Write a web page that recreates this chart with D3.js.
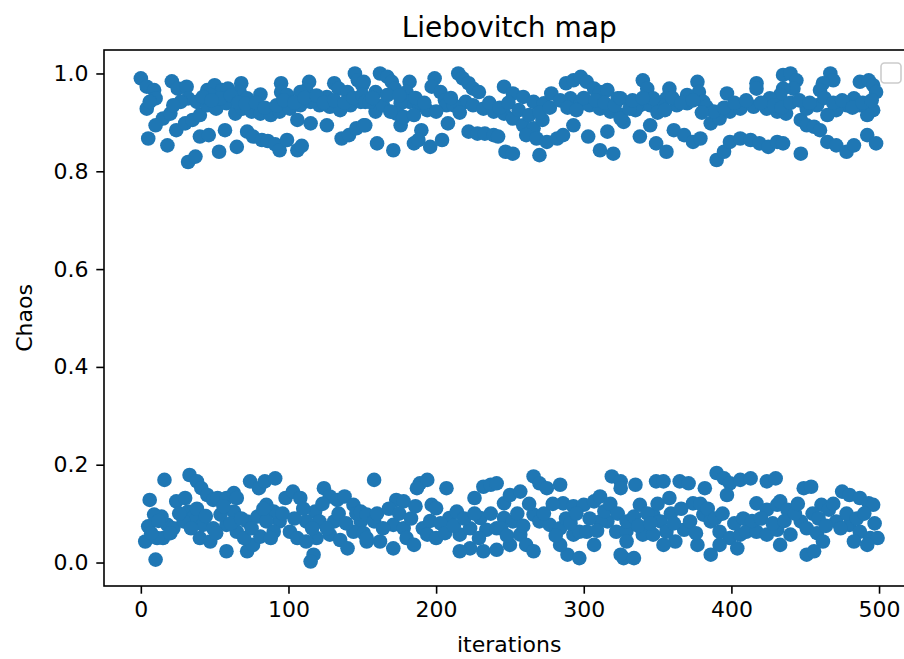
<!DOCTYPE html>
<html>
<head>
<meta charset="utf-8">
<script src="https://cdn.jsdelivr.net/npm/d3@7"></script>
<style>
  body { margin: 0; background: #fff; }
  svg { display: block; }
  text { font-family: "DejaVu Sans", sans-serif; fill: #000; }
</style>
</head>
<body>
<svg id="chart" width="904" height="659"></svg>
<script>
// Iterates of the map that land in the upper band (about 0.82 – 1.0)
const upperIterations = [
  0,4,9,10,4,6,15,20,10,5,18,21,25,31,32,27,22,24,30,35,40,32,37,40,46,53,57,65,45,50,55,59,63,68,67,81,72,76,82,86,91,94,99,106,109,95,95,114,112,131,134,145,147,150,106,115,126,136,141,146,151,
  38,45,51,58,64,69,75,81,88,94,101,108,115,121,128,135,142,149,47,54,72,99,108,117,126,140,
  42,48,61,66,71,78,84,92,97,104,111,119,124,131,138,144,
  151,150,152,162,167,170,172,159,152,160,171,182,180,182,176,173,176,178,199,197,203,206,207,190,185,188,196,204,208,215,218,222,225,229,220,225,232,239,246,252,259,266,272,222,228,233,239,242,247,252,246,252,259,266,273,270,261,268,275,282,286,293,278,288,293,298,302,307,311,316,291,298,304,311,318,325,327,303,316,311,320,323,
  155,164,169,189,194,200,212,185,159,167,
  157,175,186,192,210,216,236,243,249,256,263,270,277,284,289,295,300,308,314,321,
  325,325,340,343,338,335,358,356,352,377,378,381,383,397,417,417,435,440,444,442,435,433,467,469,462,460,487,493,496,498,483,478,471,465,496,492,345,338,349,356,361,368,374,379,386,392,399,406,415,424,431,437,390,395,399,406,413,419,425,431,435,447,447,451,456,460,465,471,478,483,492,498,
  331,345,363,370,388,451,458,487,426,347,370,
  333,340,350,355,360,366,374,380,395,402,410,420,429,434,440,446,453,463,469,475,482,489,495
];
const upperChaos = [
  0.990,0.973,0.966,0.949,0.928,0.942,0.908,0.918,0.894,0.867,0.853,0.984,0.969,0.973,0.949,0.942,0.935,0.884,0.898,0.905,0.915,0.819,0.830,0.871,0.874,0.840,0.884,0.850,0.966,0.976,0.966,0.969,0.952,0.980,0.962,0.957,0.881,0.871,0.864,0.862,0.855,0.843,0.864,0.843,0.852,0.980,0.962,0.983,0.966,0.980,0.969,1.000,0.986,0.976,0.905,0.898,0.894,0.867,0.874,0.888,0.894,
  0.942,0.935,0.928,0.939,0.918,0.928,0.922,0.918,0.915,0.922,0.928,0.935,0.942,0.935,0.932,0.925,0.935,0.942,0.956,0.949,0.949,0.956,0.962,0.945,0.952,0.962,
  0.952,0.945,0.955,0.940,0.938,0.940,0.930,0.935,0.945,0.940,0.950,0.955,0.940,0.945,0.940,0.950,
  0.983,0.956,0.942,1.000,0.993,0.983,0.969,0.922,0.894,0.857,0.843,0.983,0.962,0.942,0.939,0.918,0.894,0.911,0.990,0.973,0.962,0.945,0.935,0.884,0.857,0.864,0.850,0.864,0.898,1.000,0.990,0.980,0.969,0.962,0.942,0.935,0.928,0.922,0.918,0.908,0.894,0.888,0.905,0.881,0.877,0.877,0.874,0.871,0.840,0.836,0.973,0.959,0.952,0.942,0.939,0.833,0.874,0.867,0.860,0.867,0.874,0.894,0.959,0.980,0.986,0.993,0.983,0.969,0.962,0.966,0.949,0.939,0.935,0.928,0.922,0.915,0.901,0.871,0.881,0.843,0.836,0.949,
  0.942,0.935,0.922,0.935,0.925,0.922,0.935,0.915,0.962,0.956,
  0.950,0.955,0.950,0.940,0.950,0.920,0.940,0.930,0.940,0.925,0.915,0.920,0.930,0.945,0.930,0.925,0.950,0.945,0.940,0.935,
  0.949,0.908,0.986,0.969,0.935,0.925,0.969,0.949,0.935,0.983,0.962,0.942,0.932,0.959,0.980,0.969,0.997,1.000,0.986,0.969,0.969,0.956,1.000,0.986,0.980,0.966,0.983,0.986,0.976,0.962,0.949,0.935,0.925,0.915,0.925,0.915,0.894,0.871,0.857,0.840,0.884,0.874,0.860,0.867,0.898,0.908,0.922,0.928,0.932,0.928,0.922,0.918,0.823,0.840,0.860,0.867,0.864,0.857,0.850,0.860,0.857,0.836,0.905,0.894,0.891,0.884,0.860,0.853,0.840,0.853,0.874,0.857,
  0.928,0.935,0.935,0.939,0.922,0.928,0.935,0.935,0.949,0.949,0.956,
  0.945,0.950,0.920,0.925,0.950,0.940,0.945,0.920,0.930,0.940,0.945,0.940,0.935,0.930,0.940,0.945,0.940,0.950,0.940,0.945,0.930,0.940,0.945
];

// Iterates of the map that land in the lower band (about 0.0 – 0.18)
const lowerIterations = [
  16,6,5,3,10,15,18,14,33,38,41,45,49,24,30,32,36,40,47,58,52,58,63,65,74,80,84,91,72,76,81,42,49,58,65,72,79,98,103,108,94,101,106,90,85,124,128,118,121,117,115,133,138,144,128,135,140,149,
  9,11,22,29,63,54,70,85,90,112,119,131,144,153,112,
  7,12,20,26,34,38,44,51,56,61,68,75,83,88,96,104,110,116,123,126,134,139,146,151,
  158,149,153,158,173,178,171,189,194,187,207,197,200,178,180,185,191,194,200,209,214,226,232,237,241,230,234,241,246,223,232,241,246,250,257,266,270,275,284,257,261,266,266,270,277,284,286,293,300,307,311,293,297,302,289,297,319,325,316,322,327,
  162,171,216,216,223,250,284,307,311,252,153,
  160,164,168,175,183,186,196,203,206,212,219,226,229,237,244,248,255,259,263,273,279,281,288,291,295,304,309,314,318,323,329,
  335,325,329,334,338,340,349,354,365,371,358,374,382,390,395,399,406,413,424,430,397,417,424,431,433,438,347,352,356,362,368,372,381,386,392,399,406,410,417,424,431,449,454,447,451,458,462,451,456,461,466,475,480,487,493,496,471,480,487,494,499,492,
  325,334,386,329,347,354,377,392,404,433,440,483,
  337,343,345,350,359,361,366,376,379,384,389,394,402,408,414,420,428,436,443,445,455,459,464,469,474,478,485,490,497
];
const lowerChaos = [
  0.169,0.128,0.074,0.043,0.006,0.050,0.077,0.094,0.179,0.166,0.152,0.138,0.128,0.125,0.132,0.104,0.094,0.050,0.043,0.023,0.132,0.132,0.142,0.132,0.166,0.152,0.166,0.172,0.023,0.036,0.053,0.077,0.070,0.077,0.063,0.084,0.094,0.132,0.145,0.132,0.084,0.063,0.050,0.104,0.084,0.152,0.135,0.104,0.084,0.016,0.002,0.128,0.135,0.118,0.057,0.046,0.029,0.084,
  0.098,0.050,0.070,0.084,0.104,0.098,0.050,0.118,0.063,0.084,0.050,0.084,0.063,0.043,0.043,
  0.060,0.085,0.060,0.100,0.070,0.110,0.095,0.060,0.115,0.080,0.090,0.070,0.110,0.050,0.100,0.090,0.110,0.070,0.120,0.070,0.100,0.080,0.100,0.060,
  0.169,0.104,0.098,0.084,0.128,0.125,0.077,0.162,0.169,0.152,0.152,0.118,0.111,0.070,0.050,0.036,0.070,0.057,0.050,0.091,0.104,0.132,0.155,0.159,0.162,0.091,0.067,0.070,0.091,0.029,0.023,0.026,0.121,0.138,0.145,0.176,0.162,0.152,0.159,0.057,0.036,0.023,0.098,0.084,0.077,0.070,0.121,0.115,0.118,0.125,0.135,0.057,0.063,0.063,0.016,0.009,0.176,0.166,0.084,0.063,0.009,
  0.043,0.029,0.057,0.023,0.070,0.036,0.036,0.036,0.084,0.084,0.050,
  0.100,0.070,0.110,0.100,0.090,0.115,0.085,0.080,0.060,0.075,0.090,0.100,0.050,0.100,0.070,0.055,0.100,0.075,0.120,0.100,0.120,0.055,0.090,0.080,0.100,0.090,0.065,0.105,0.120,0.100,0.065,
  0.159,0.152,0.084,0.094,0.118,0.057,0.166,0.166,0.166,0.162,0.132,0.121,0.152,0.183,0.172,0.162,0.169,0.172,0.166,0.172,0.138,0.121,0.108,0.118,0.125,0.108,0.098,0.084,0.063,0.043,0.067,0.084,0.098,0.084,0.063,0.050,0.057,0.063,0.063,0.057,0.067,0.152,0.155,0.084,0.070,0.060,0.043,0.016,0.023,0.118,0.108,0.145,0.138,0.132,0.121,0.118,0.084,0.077,0.063,0.050,0.050,0.036,
  0.016,0.009,0.016,0.043,0.057,0.036,0.036,0.036,0.029,0.036,0.057,0.043,
  0.075,0.100,0.080,0.120,0.100,0.080,0.110,0.060,0.120,0.110,0.090,0.100,0.080,0.090,0.085,0.090,0.080,0.085,0.100,0.120,0.100,0.090,0.075,0.120,0.070,0.100,0.090,0.100,0.080
];

const xTickValues = [0, 100, 200, 300, 400, 500];
const yTickValues = [0.0, 0.2, 0.4, 0.6, 0.8, 1.0];
const titleText = "Liebovitch map";
const xLabelText = "iterations";
const yLabelText = "Chaos";

// Layout (pixels)
const plotLeft = 104, plotRight = 914.4, plotTop = 50, plotBottom = 586;
const tickLen = 7.7, tickPad = 7.7, lineW = 1.6;
const tickFont = 22, titleFont = 28;
const dotColor = "#1f77b4", dotRadius = 7.3;

const points = upperIterations.map((it, k) => ({ it, v: upperChaos[k] }))
  .concat(lowerIterations.map((it, k) => ({ it, v: lowerChaos[k] })));

const svg = d3.select("#chart");

const x = d3.scaleLinear().domain([-24.95, 523.95]).range([plotLeft, plotRight]);
const y = d3.scaleLinear().domain([-0.048, 1.048]).range([plotBottom, plotTop]);

// Scatter marks
svg.append("g")
  .selectAll("circle")
  .data(points)
  .join("circle")
  .attr("cx", d => x(d.it))
  .attr("cy", d => y(d.v))
  .attr("r", dotRadius)
  .attr("fill", dotColor);

// Frame
svg.append("rect")
  .attr("x", plotLeft).attr("y", plotTop)
  .attr("width", plotRight - plotLeft).attr("height", plotBottom - plotTop)
  .attr("fill", "none").attr("stroke", "#000").attr("stroke-width", lineW);

function styleAxis(g) {
  g.select(".domain").remove();
  g.selectAll(".tick line").attr("stroke", "#000").attr("stroke-width", lineW);
  g.selectAll(".tick text")
    .attr("fill", "#000")
    .style("font-family", '"DejaVu Sans", sans-serif')
    .style("font-size", tickFont + "px");
  g.attr("font-family", null).attr("font-size", null);
}

svg.append("g")
  .attr("transform", `translate(0,${plotBottom})`)
  .call(d3.axisBottom(x).tickValues(xTickValues).tickSize(tickLen).tickPadding(tickPad).tickFormat(d3.format("d")))
  .call(styleAxis);

svg.append("g")
  .attr("transform", `translate(${plotLeft},0)`)
  .call(d3.axisLeft(y).tickValues(yTickValues).tickSize(tickLen).tickPadding(tickPad).tickFormat(d3.format(".1f")))
  .call(styleAxis);

// Title and axis labels
svg.append("text")
  .attr("x", (plotLeft + plotRight) / 2).attr("y", 37)
  .attr("text-anchor", "middle")
  .style("font-size", titleFont + "px")
  .text(titleText);

svg.append("text")
  .attr("x", (plotLeft + plotRight) / 2).attr("y", 652)
  .attr("text-anchor", "middle")
  .style("font-size", tickFont + "px")
  .text(xLabelText);

svg.append("text")
  .attr("transform", `translate(24,${(plotTop + plotBottom) / 2}) rotate(-90)`)
  .attr("text-anchor", "middle")
  .attr("dominant-baseline", "central")
  .style("font-size", tickFont + "px")
  .text(yLabelText);

// Empty legend box in the upper right corner
svg.append("rect")
  .attr("x", 881).attr("y", 63).attr("width", 20).attr("height", 20)
  .attr("rx", 3.5)
  .attr("fill", "#fff").attr("fill-opacity", 0.8)
  .attr("stroke", "#cccccc").attr("stroke-width", 1.6);
</script>
</body>
</html>
